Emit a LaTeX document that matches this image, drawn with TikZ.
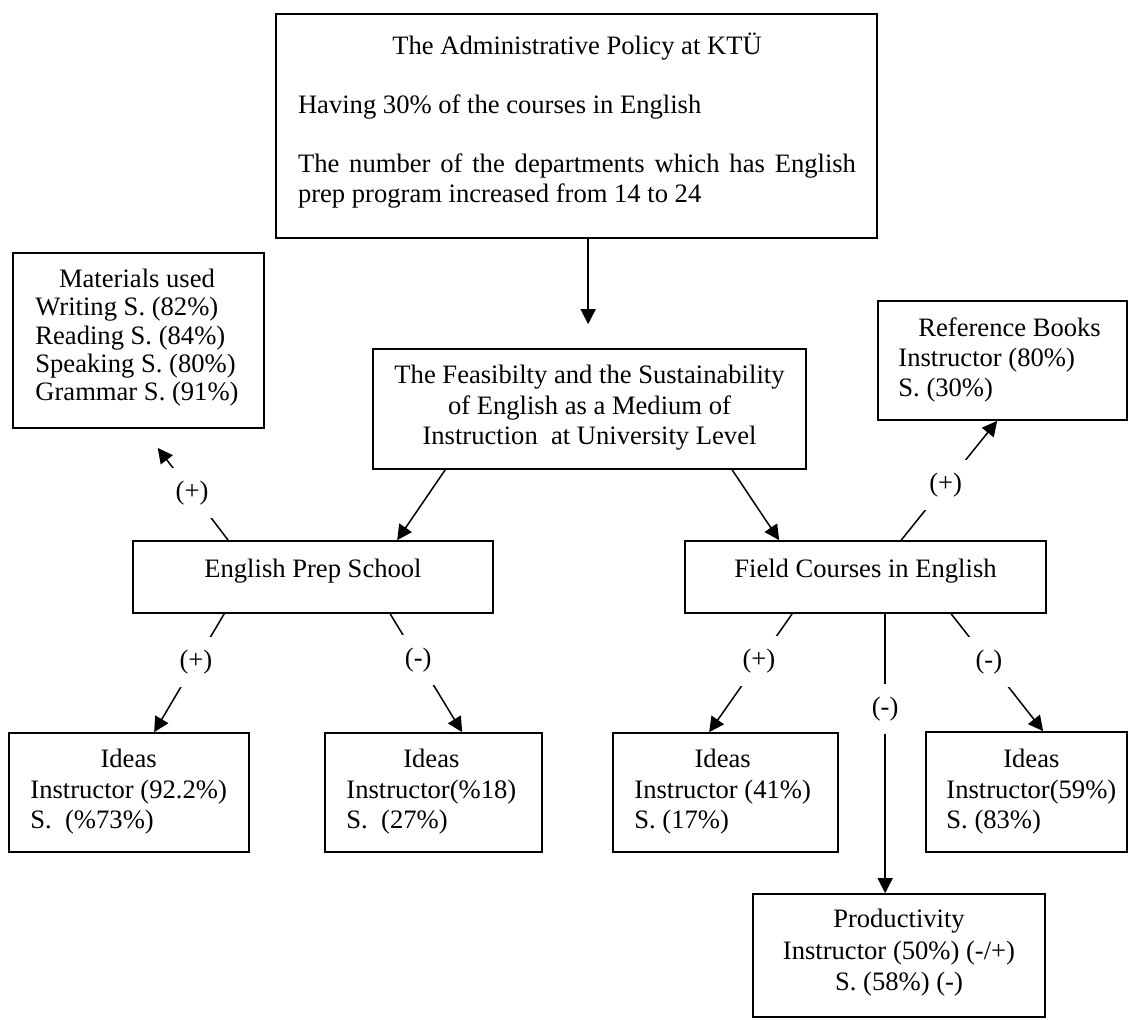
\documentclass[tikz,border=0pt]{standalone}
\usepackage{fontspec}
\setmainfont{Liberation Serif}
\usetikzlibrary{arrows.meta,fit,calc}
\begin{document}
\begin{tikzpicture}[x=0.5pt,y=-0.5pt,
  frame/.style={draw, line width=0.85pt, inner sep=0pt},
  txt/.style={inner sep=0pt, font=\fontsize{13.3pt}{#1}\selectfont},
  arr/.style={line width=0.75pt, -{Triangle[length=7.5pt,width=7.5pt]}},
  lbl/.style={fill=white, inner sep=0pt, minimum width=25pt, minimum height=25pt, font=\fontsize{13.3pt}{15pt}\selectfont}]
\useasboundingbox (0,0) rectangle (1129,1019);

% frames
\node[frame, fit={(276,14) (877,238)}] (top) {};
\node[frame, fit={(13,253) (264,428)}] (mat) {};
\node[frame, fit={(373,349) (806,469)}] (feas) {};
\node[frame, fit={(878,301) (1127,420)}] (ref) {};
\node[frame, fit={(133,541) (493,613)}] (eps) {};
\node[frame, fit={(685,541) (1046,613)}] (fc) {};
\node[frame, fit={(9,733) (249,852)}] (id1) {};
\node[frame, fit={(325,733) (542,852)}] (id2) {};
\node[frame, fit={(613,733) (838,852)}] (id3) {};
\node[frame, fit={(926,732) (1127,852)}] (id4) {};
\node[frame, fit={(753,894) (1045,1017)}] (prod) {};

% texts
\node[txt=14.75pt] (ttop) at (577,122) {\begin{tabular}{@{}l@{}}\multicolumn{1}{@{}c@{}}{The Administrative Policy at KTÜ}\\ \\ Having 30\% of the courses in English\\ \\ \makebox[279pt][s]{The number of the departments which has English}\\ prep program increased from 14 to 24\end{tabular}};

\node[txt=14.15pt, anchor=west] (tmat) at (35,338.6) {\begin{tabular}{@{}l@{}}\multicolumn{1}{@{}c@{}}{Materials used}\\ Writing S. (82\%)\\ Reading S. (84\%)\\ Speaking S. (80\%)\\ Grammar S. (91\%)\end{tabular}};

\node[txt=15.25pt] (tfeas) at (589.5,408) {\begin{tabular}{@{}c@{}}The Feasibilty and the Sustainability\\ of English as a Medium of\\ Instruction\ \ at University Level\end{tabular}};

\node[txt=15.15pt, anchor=west] (tref) at (898,360.6) {\begin{tabular}{@{}l@{}}\hspace{10pt}Reference Books\\ Instructor (80\%)\\ S. (30\%)\end{tabular}};

\node[txt=15pt, anchor=base] (teps) at (313,577) {English Prep School};
\node[txt=15pt, anchor=base] (tfc) at (865.5,577) {Field Courses in English};

\node[txt=15.25pt, anchor=west] (tid1) at (30,792) {\begin{tabular}{@{}l@{}}\multicolumn{1}{@{}c@{}}{Ideas}\\ Instructor (92.2\%)\\ S.\ \ (\%73\%)\end{tabular}};
\node[txt=15.25pt, anchor=west] (tid2) at (346,792) {\begin{tabular}{@{}l@{}}\multicolumn{1}{@{}c@{}}{Ideas}\\ Instructor(\%18)\\ S.\ \ (27\%)\end{tabular}};
\node[txt=15.25pt, anchor=west] (tid3) at (634,792) {\begin{tabular}{@{}l@{}}\multicolumn{1}{@{}c@{}}{Ideas}\\ Instructor (41\%)\\ S. (17\%)\end{tabular}};
\node[txt=15.25pt, anchor=west] (tid4) at (946,792) {\begin{tabular}{@{}l@{}}\multicolumn{1}{@{}c@{}}{Ideas}\\ Instructor(59\%)\\ S. (83\%)\end{tabular}};

\node[txt=15.65pt] (tprod) at (899,953) {\begin{tabular}{@{}c@{}}Productivity\\ Instructor (50\%) (-/+)\\ S. (58\%) (-)\end{tabular}};

% connectors
\draw[arr, shorten >=12pt] ($(top.south west)+(313,0)$) -- ($(feas.north west)+(216,0)$);
\draw[arr] ($(feas.south west)+(73,0)$) -- ($(eps.north west)+(265,0)$);
\draw[arr] ($(feas.south west)+(360,0)$) -- ($(fc.north west)+(95,0)$);
\draw[arr, shorten >=12pt] ($(eps.north west)+(96,0)$) -- node[lbl, pos=0.425] (l1) {(+)} ($(mat.south west)+(131,0)$);
\draw[arr] ($(fc.north west)+(217,0)$) -- node[lbl, pos=0.463] (l2) {(+)} ($(ref.south west)+(120,0)$);
\draw[arr] ($(eps.south west)+(92,0)$) -- node[lbl, pos=0.404] (l3) {(+)} ($(id1.north west)+(146,0)$);
\draw[arr] ($(eps.south west)+(258,0)$) -- node[lbl, pos=0.39] (l4) {(-)} ($(id2.north west)+(138,0)$);
\draw[arr] ($(fc.south west)+(108,0)$) -- node[lbl, pos=0.4] (l5) {(+)} ($(id3.north west)+(97,0)$);
\draw[arr] ($(fc.south west)+(201,0)$) -- node[lbl, pos=0.342] (l6) {(-)} ($(prod.north west)+(133,0)$);
\draw[arr] ($(fc.south west)+(267,0)$) -- node[lbl, pos=0.41] (l7) {(-)} ($(id4.north west)+(118,0)$);
\end{tikzpicture}
\end{document}
